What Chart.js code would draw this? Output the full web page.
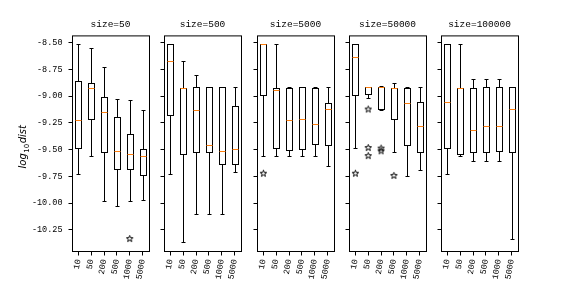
<!DOCTYPE html>
<html>
<head>
<meta charset="utf-8">
<script src="https://cdn.jsdelivr.net/npm/chart.js@4.4.1/dist/chart.umd.min.js"></script>
<style>
  body { margin: 0; background: #fff; }
  #wrap { position: relative; width: 576px; height: 288px; }
  #wrap canvas { position: absolute; left: 0; top: 0; }
</style>
</head>
<body>
<div id="wrap"></div>
<script>
// values, one row per panel
const categories = ['10', '50', '200', '500', '1000', '5000'];
const panelTitles = ['size=50', 'size=500', 'size=5000', 'size=50000', 'size=100000'];
const yTicks = [-8.5, -8.75, -9, -9.25, -9.5, -9.75, -10, -10.25];
const yTickLabels = ['-8.50', '-8.75', '-9.00', '-9.25', '-9.50', '-9.75', '-10.00', '-10.25'];

const whiskerHigh = [
  [-8.51, -8.55, -8.73, -9.03, -9.04, -9.13],
  [-8.51, -8.67, -8.80, -8.91, -8.91, -8.91],
  [-8.51, -8.51, -8.915, -8.91, -8.915, -8.91],
  [-8.51, -8.915, -8.905, -8.875, -8.915, -8.91],
  [-8.51, -8.51, -8.84, -8.84, -8.84, -8.91]
];
const q3 = [
  [-8.86, -8.88, -9.01, -9.19, -9.35, -9.49],
  [-8.51, -8.92, -8.91, -8.91, -8.91, -9.09],
  [-8.51, -8.92, -8.92, -8.91, -8.92, -9.06],
  [-8.51, -8.915, -8.91, -8.92, -8.92, -9.05],
  [-8.51, -8.92, -8.92, -8.91, -8.91, -8.91]
];
const median = [
  [-9.22, -8.92, -9.15, -9.51, -9.54, -9.56],
  [-8.67, -8.92, -9.13, -9.46, -9.51, -9.49],
  [-8.51, -8.94, -9.22, -9.21, -9.26, -9.12],
  [-8.63, -8.915, -8.915, -8.92, -9.06, -9.28],
  [-9.05, -8.92, -9.32, -9.28, -9.28, -9.12]
];
const q1 = [
  [-9.48, -9.21, -9.52, -9.68, -9.68, -9.74],
  [-9.18, -9.54, -9.52, -9.52, -9.63, -9.63],
  [-8.99, -9.48, -9.50, -9.49, -9.45, -9.46],
  [-8.99, -8.98, -9.12, -9.21, -9.46, -9.52],
  [-9.48, -9.54, -9.52, -9.52, -9.51, -9.52]
];
const whiskerLow = [
  [-9.73, -9.56, -9.98, -10.03, -9.98, -9.97],
  [-9.73, -10.36, -10.10, -10.10, -10.10, -9.71],
  [-9.56, -9.56, -9.56, -9.56, -9.56, -9.65],
  [-9.48, -9.02, -9.125, -9.52, -9.75, -9.69],
  [-9.73, -9.555, -9.61, -9.61, -9.61, -10.33]
];
// [panel, category index, value]
const outliers = [
  [0, 4, -10.33],
  [2, 0, -9.72],
  [3, 0, -9.72], [3, 1, -9.12], [3, 1, -9.48], [3, 1, -9.555],
  [3, 2, -9.485], [3, 2, -9.51], [3, 3, -9.74]
];

const panelLeft = [72, 164, 257, 349, 441];
const panelWidth = 77;
const FONT = '"Liberation Mono", "DejaVu Sans Mono", monospace';

Chart.defaults.font.family = FONT;
Chart.defaults.font.size = 8.5;
Chart.defaults.color = '#000';

// hollow five point star like matplotlib's '*' flier
function starImage() {
  const c = document.createElement('canvas');
  c.width = 9; c.height = 9;
  const g = c.getContext('2d');
  g.beginPath();
  for (let k = 0; k < 10; k++) {
    const r = k % 2 ? 1.4 : 3.4;
    const a = -Math.PI / 2 + k * Math.PI / 5;
    const sx = 4.5 + r * Math.cos(a), sy = 4.8 + r * Math.sin(a);
    k ? g.lineTo(sx, sy) : g.moveTo(sx, sy);
  }
  g.closePath();
  g.strokeStyle = '#000';
  g.lineWidth = 1;
  g.stroke();
  return c;
}
const star = starImage();

const px = v => Math.round(v) + 0.5;

const boxPlot = {
  id: 'boxPlot',
  afterDatasetsDraw(chart, args, opts) {
    const { ctx, chartArea: a } = chart;
    const x = chart.scales.x, y = chart.scales.y;
    const p = opts.panel;
    ctx.save();
    ctx.lineWidth = 1;
    categories.forEach((c, i) => {
      const cx = px(x.getPixelForValue(i));
      const yLo = px(y.getPixelForValue(whiskerLow[p][i]));
      const yHi = px(y.getPixelForValue(whiskerHigh[p][i]));
      const yQ1 = px(y.getPixelForValue(q1[p][i]));
      const yQ3 = px(y.getPixelForValue(q3[p][i]));
      ctx.strokeStyle = '#000';
      ctx.beginPath();
      ctx.moveTo(cx, yQ1); ctx.lineTo(cx, yLo);
      ctx.moveTo(cx, yQ3); ctx.lineTo(cx, yHi);
      ctx.moveTo(cx - 2, yLo); ctx.lineTo(cx + 2, yLo);
      ctx.moveTo(cx - 2, yHi); ctx.lineTo(cx + 2, yHi);
      ctx.stroke();
      ctx.strokeRect(cx - 3, yQ3, 6, yQ1 - yQ3);
      const ym = px(y.getPixelForValue(median[p][i]));
      ctx.strokeStyle = '#ff7f0e';
      ctx.beginPath();
      ctx.moveTo(cx - 3, ym); ctx.lineTo(cx + 3, ym);
      ctx.stroke();
    });
    ctx.strokeStyle = '#000';
    ctx.strokeRect(a.left + 0.5, a.top + 0.5, a.right - a.left, a.bottom - a.top - 1);

    if (p === 0) {
      // y label: log_{10}dist
      ctx.translate(22.5, (a.top + a.bottom) / 2 + 3);
      ctx.rotate(-Math.PI / 2);
      ctx.fillStyle = '#000';
      ctx.textBaseline = 'alphabetic';
      const big = 'italic 10px "DejaVu Sans"', small = '7px "DejaVu Sans"';
      ctx.font = big; const w1 = ctx.measureText('log').width, w3 = ctx.measureText('dist').width;
      ctx.font = small; const w2 = ctx.measureText('10').width;
      let tx = -(w1 + w2 + w3 + 1) / 2;
      ctx.font = big; ctx.fillText('log', tx, 3.5); tx += w1 + 0.5;
      ctx.font = small; ctx.fillText('10', tx, 6); tx += w2 + 0.5;
      ctx.font = big; ctx.fillText('dist', tx, 3.5);
    }
    ctx.restore();
  }
};

const wrap = document.getElementById('wrap');
// last panel first, so the first panel (with the tick labels) sits on top
[4, 3, 2, 1, 0].forEach(p => {
  const title = panelTitles[p];
  const cv = document.createElement('canvas');
  cv.width = 576; cv.height = 288;
  wrap.appendChild(cv);
  const yW = p === 0 ? 54 : 10;

  new Chart(cv, {
    type: 'bar',
    data: {
      labels: categories,
      datasets: [
        {
          // boxes (q1..q3); outline is stroked pixel-aligned by the plugin
          data: q1[p].map((v, i) => [v, q3[p][i]]),
          backgroundColor: 'rgba(0,0,0,0)',
          borderWidth: 0,
          barPercentage: 0.5,
          categoryPercentage: 1
        },
        {
          type: 'line',
          showLine: false,
          data: outliers.filter(o => o[0] === p).map(o => ({ x: categories[o[1]], y: o[2] })),
          pointStyle: star,
          pointRadius: 4
        }
      ]
    },
    options: {
      responsive: false,
      animation: false,
      devicePixelRatio: 1,
      events: [],
      layout: { padding: { left: panelLeft[p] - yW, right: 576 - panelLeft[p] - panelWidth, top: 19, bottom: 0 } },
      plugins: {
        legend: { display: false },
        tooltip: { enabled: false },
        title: { display: true, text: title, fullSize: false, color: '#000',
                 font: { size: 9.5, weight: 'normal' }, padding: { top: 0, bottom: 5 } },
        boxPlot: { panel: p }
      },
      scales: {
        x: {
          type: 'category',
          offset: true,
          grid: { offset: false, drawOnChartArea: false, tickLength: 3.5, color: '#000' },
          border: { display: false },
          ticks: { minRotation: 80, maxRotation: 80, autoSkip: false, padding: 3, color: '#000' },
          afterFit: s => { s.height = 36; }
        },
        y: {
          type: 'linear',
          min: -10.456,
          max: -8.432,
          afterBuildTicks: s => { s.ticks = yTicks.map(v => ({ value: v })); },
          grid: { drawOnChartArea: false, tickLength: 3.5, color: '#000' },
          border: { display: false },
          ticks: { callback: (v, i) => p === 0 ? yTickLabels[i] : '', padding: 6, autoSkip: false, color: '#000' },
          afterFit: s => { s.width = yW; }
        }
      }
    },
    plugins: [boxPlot]
  });
});
</script>
</body>
</html>
